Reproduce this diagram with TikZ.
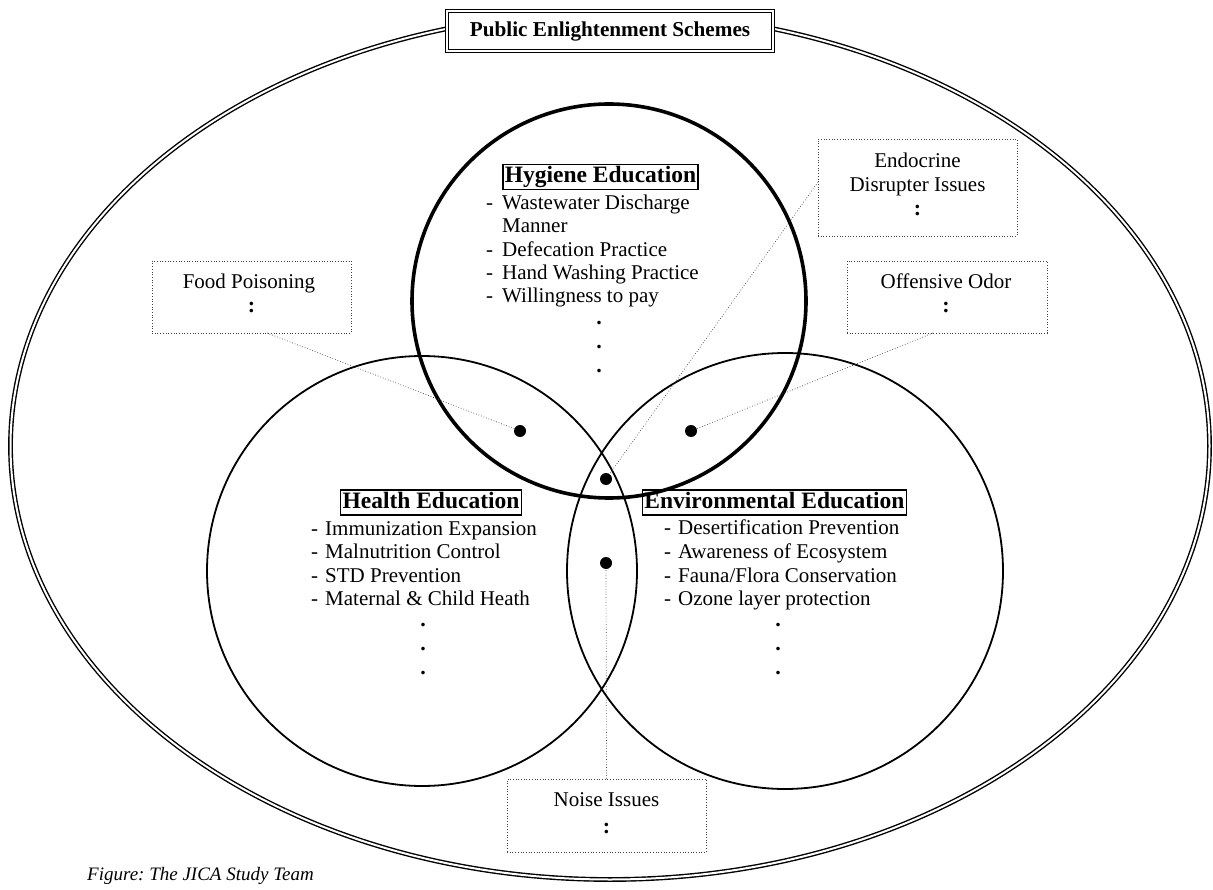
\documentclass[tikz,border=0pt]{standalone}
\usepackage{fontspec}
\setmainfont{Liberation Serif}
\usetikzlibrary{shapes.geometric}
\frenchspacing
\begin{document}
\begin{tikzpicture}[x=1pt,y=-1pt,
  body/.style={font=\fontsize{21}{23}\selectfont, inner sep=0pt, text height=14pt, text depth=4.5pt, anchor=west},
  headbox/.style={draw, line width=1.5pt, font=\fontsize{23.5}{26}\selectfont\bfseries, inner sep=2pt, text height=16pt, text depth=5pt},
  vdot/.style={font=\fontsize{22}{23}\selectfont\bfseries, inner sep=0pt, text height=3pt, text depth=0pt},
  callout/.style={draw=black!75, dotted, line width=0.7pt, inner sep=0pt},
  calltext/.style={font=\fontsize{21}{23}\selectfont, inner sep=0pt, text height=14pt, text depth=4.5pt},
  colon/.style={font=\fontsize{22}{23}\selectfont\bfseries, inner sep=0pt, text height=10pt, text depth=0pt},
  leader/.style={draw=black!75, dotted, line width=0.7pt},
  hub/.style={circle, fill=black, inner sep=0pt, minimum size=12pt},
  ring/.style={circle, draw, inner sep=0pt}]
\useasboundingbox (0,0) rectangle (1213,890);
% outer ellipse
\node[ellipse, draw, double, line width=1.4pt, double distance=2pt, minimum width=1199pt, minimum height=867pt, inner sep=0pt] (outer) at (610,446) {};
% title
\node[draw, double, line width=1.4pt, double distance=2pt, fill=white, minimum width=326pt, minimum height=40pt, font=\fontsize{21.2}{23}\selectfont\bfseries, inner sep=0pt] (title) at (610,31) {Public Enlightenment Schemes};
% circles
\node[ring, line width=1.8pt, minimum size=430pt] (health) at (422,571) {};
\node[ring, line width=1.8pt, minimum size=436pt] (env) at (785,571) {};
\node[ring, line width=3.6pt, minimum size=394pt] (hyg) at (609,301) {};
% hygiene
\node[headbox] (hygh) at (600.5,177) {Hygiene Education};
\node[body] (h1d) at (486,205) {-};
\node[body] (h1) at (502,205) {Wastewater Discharge};
\node[body] (h1b) at (502,228) {Manner};
\node[body] (h2d) at (486,252) {-};
\node[body] (h2) at (502,252) {Defecation Practice};
\node[body] (h3d) at (486,275) {-};
\node[body] (h3) at (502,275) {Hand Washing Practice};
\node[body] (h4d) at (486,298) {-};
\node[body] (h4) at (502,298) {Willingness to pay};
\node[vdot] (hd1) at (599,323) {.};
\node[vdot] (hd2) at (599,347) {.};
\node[vdot] (hd3) at (599,371) {.};
% health
\node[headbox] (heah) at (431,502.5) {Health Education};
\node[body] (a1d) at (311,531) {-};
\node[body] (a1) at (325,531) {Immunization Expansion};
\node[body] (a2d) at (311,554) {-};
\node[body] (a2) at (325,554) {Malnutrition Control};
\node[body] (a3d) at (311,578) {-};
\node[body] (a3) at (325,578) {STD Prevention};
\node[body] (a4d) at (311,601) {-};
\node[body] (a4) at (325,601) {Maternal \& Child Heath};
\node[vdot] (ad1) at (423,625) {.};
\node[vdot] (ad2) at (423,649) {.};
\node[vdot] (ad3) at (423,673) {.};
% environmental
\node[headbox] (envh) at (774.5,502.5) {Environmental Education};
\node[body] (e1d) at (664,530) {-};
\node[body] (e1) at (678,530) {Desertification Prevention};
\node[body] (e2d) at (664,554) {-};
\node[body] (e2) at (678,554) {Awareness of Ecosystem};
\node[body] (e3d) at (664,578) {-};
\node[body] (e3) at (678,578) {Fauna/Flora Conservation};
\node[body] (e4d) at (664,601) {-};
\node[body] (e4) at (678,601) {Ozone layer protection};
\node[vdot] (ed1) at (778,625) {.};
\node[vdot] (ed2) at (778,649) {.};
\node[vdot] (ed3) at (778,673) {.};
% hubs
\node[hub] (dfood) at (520,431) {};
\node[hub] (dodor) at (691,431) {};
\node[hub] (dendo) at (606,479) {};
\node[hub] (dnoise) at (606,563) {};
% callouts
\node[callout, minimum width=199pt, minimum height=72pt] (food) at (251.5,297) {};
\node[calltext] (foodt) at (249,284) {Food Poisoning};
\node[colon] (foodc) at (251.5,308) {:};
\node[callout, minimum width=200pt, minimum height=72pt] (odor) at (947,297) {};
\node[calltext] (odort) at (946,284) {Offensive Odor};
\node[colon] (odorc) at (946,308) {:};
\node[callout, minimum width=199pt, minimum height=97pt] (endo) at (917.5,187.5) {};
\node[calltext] (endot1) at (917.5,163) {Endocrine};
\node[calltext] (endot2) at (917.5,187) {Disrupter Issues};
\node[colon] (endoc) at (917.5,211) {:};
\node[callout, minimum width=199pt, minimum height=73pt] (noise) at (606.5,815.5) {};
\node[calltext] (noiset) at (606.5,802) {Noise Issues};
\node[colon] (noisec) at (606.5,828) {:};
% leaders
\coordinate (foodend) at (267,333);
\coordinate (odorend) at (933,333);
\coordinate (endoend) at (818,182);
\draw[leader] (foodend) -- (dfood);
\draw[leader] (odorend) -- (dodor);
\draw[leader] (endoend) -- (dendo);
\draw[leader] (noise.north) -- (dnoise);
% caption
\node[font=\fontsize{19}{20}\selectfont\itshape, anchor=west, inner sep=0pt] (cap) at (87,876) {Figure: The JICA Study Team};
\end{tikzpicture}
\end{document}
